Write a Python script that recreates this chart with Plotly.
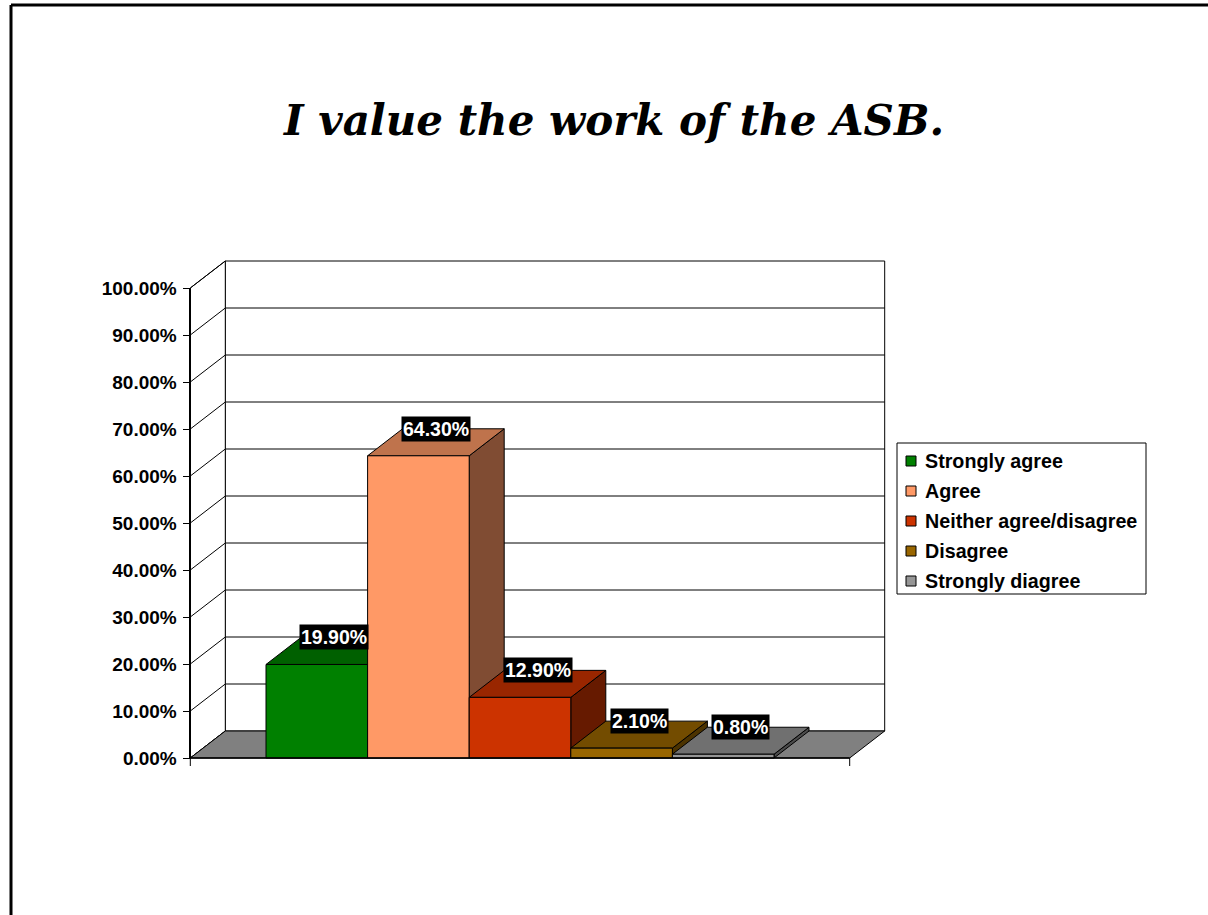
import plotly.graph_objects as go

# ---- data ----
categories = ["Strongly agree", "Agree", "Neither agree/disagree", "Disagree", "Strongly diagree"]
values = [19.9, 64.3, 12.9, 2.1, 0.8]          # percent of respondents
front_colors = ["#008000", "#FF9966", "#CC3300", "#996600", "#969696"]
y_ticks = list(range(0, 101, 10))
title_text = "I value the work of the ASB."

# ---- page geometry (pixels) ----
W, H = 1208, 915
X0_PX, SLOT_PX = 316.8, 101.6       # centre of first bar, width of one bar slot
Y0_PX, PX_PER_PCT = 758.0, 4.7      # front floor line, pixels per percent
DEPTH_PX = (35.0, 27.0)             # oblique depth offset (right, up)
GAP = 0.745                          # floor margin beyond the bars, in slots

DX = DEPTH_PX[0] / SLOT_PX
DY = DEPTH_PX[1] / PX_PER_PCT
n = len(values)
xf0, xf1 = -0.5 - GAP, n - 0.5 + GAP
ymax = max(y_ticks)

FONT = "Liberation Sans, Arial, sans-serif"


def shade(hex_color, k):
    r, g, b = (int(hex_color[i:i + 2], 16) for i in (1, 3, 5))
    return "rgb(%d,%d,%d)" % (round(r * k), round(g * k), round(b * k))


fig = go.Figure()


def poly(xs, ys, fill, width=1):
    fig.add_trace(go.Scatter(
        x=list(xs) + [xs[0]], y=list(ys) + [ys[0]],
        mode="lines", fill="toself", fillcolor=fill,
        line=dict(color="black", width=width),
        hoverinfo="skip", showlegend=False))


def line(xs, ys, width=1):
    fig.add_trace(go.Scatter(x=xs, y=ys, mode="lines",
                             line=dict(color="black", width=width),
                             hoverinfo="skip", showlegend=False))


# back wall with its gridlines
poly([xf0 + DX, xf1 + DX, xf1 + DX, xf0 + DX], [DY, DY, ymax + DY, ymax + DY], "white")
for t in y_ticks[1:-1]:
    line([xf0 + DX, xf1 + DX], [t + DY, t + DY])
# left side wall with depth lines
poly([xf0, xf0, xf0 + DX, xf0 + DX], [0, ymax, ymax + DY, DY], "white")
for t in y_ticks:
    line([xf0, xf0 + DX], [t, t + DY])
# floor
poly([xf0, xf1, xf1 + DX, xf0 + DX], [0, 0, DY, DY], "#808080")

# bars, left to right so each bar covers the side of the previous one
for i, (v, c) in enumerate(zip(values, front_colors)):
    xl, xr = i - 0.5, i + 0.5
    poly([xr, xr, xr + DX, xr + DX], [0, v, v + DY, DY], shade(c, 0.5))       # side
    poly([xl, xr, xr + DX, xl + DX], [v, v, v + DY, v + DY], shade(c, 0.75))   # top
    poly([xl, xr, xr, xl], [0, 0, v, v], c)                                   # front

# front floor edge and category-axis end ticks
tick_len = 8.0 / PX_PER_PCT
line([xf0, xf1], [0, 0], width=1.5)
for xe in (xf0, xf1):
    line([xe, xe], [0, -tick_len])

# value labels
for i, v in enumerate(values):
    fig.add_annotation(x=i + DX / 2, y=v + DY, xref="x", yref="y",
                       text="<b>%.2f%%</b>" % v, showarrow=False,
                       font=dict(family=FONT, size=19.5, color="white"),
                       bgcolor="black", borderpad=1,
                       xanchor="center", yanchor="middle")

# visible value axis on its own subplot
fig.add_trace(go.Scatter(x=[None], y=[None], xaxis="x", yaxis="y2",
                         hoverinfo="skip", showlegend=False))

# legend box
lx0, ly0, lx1, ly1 = 897, 443, 1146, 594
fig.add_shape(type="rect", xref="paper", yref="paper",
              x0=lx0 / W, x1=lx1 / W, y0=1 - ly0 / H, y1=1 - ly1 / H,
              line=dict(color="black", width=1), fillcolor="white")
for k, (name, c) in enumerate(zip(categories, front_colors)):
    cy = 461 + 30 * k
    fig.add_shape(type="rect", xref="paper", yref="paper",
                  x0=906 / W, x1=916 / W, y0=1 - (cy - 5) / H, y1=1 - (cy + 5) / H,
                  line=dict(color="black", width=1), fillcolor=c)
    fig.add_annotation(x=923 / W, y=1 - cy / H, xref="paper", yref="paper",
                       text="<b>%s</b>" % name, showarrow=False,
                       font=dict(family=FONT, size=19.7, color="black"),
                       xanchor="left", yanchor="middle")

# page frame
fig.add_shape(type="line", xref="paper", yref="paper",
              x0=11 / W, x1=1.0, y0=1 - 5 / H, y1=1 - 5 / H,
              line=dict(color="black", width=3))
fig.add_shape(type="line", xref="paper", yref="paper",
              x0=11 / W, x1=11 / W, y0=1 - 5 / H, y1=0,
              line=dict(color="black", width=3))

fig.update_layout(
    width=W, height=H,
    margin=dict(l=0, r=0, t=0, b=0, pad=0, autoexpand=False),
    paper_bgcolor="white", plot_bgcolor="rgba(0,0,0,0)",
    title=dict(text="<b><i>%s</i></b>" % title_text, automargin=False,
               x=614 / W, y=1 - 120 / H, xanchor="center", yanchor="middle",
               font=dict(family="DejaVu Serif, serif", size=42, color="black")),
    xaxis=dict(range=[-X0_PX / SLOT_PX, (W - X0_PX) / SLOT_PX], visible=False,
               domain=[0, 1], automargin=False),
    yaxis=dict(range=[(Y0_PX - H) / PX_PER_PCT, Y0_PX / PX_PER_PCT], visible=False,
               domain=[0, 1], automargin=False),
    yaxis2=dict(range=[0, ymax], domain=[(H - Y0_PX) / H, (H - Y0_PX + ymax * PX_PER_PCT) / H],
                anchor="free", position=(X0_PX + xf0 * SLOT_PX) / W, side="left",
                automargin=False, ticklabelstandoff=2,
                tickvals=y_ticks, ticktext=["<b>%.2f%%</b>" % t for t in y_ticks],
                ticks="outside", ticklen=7, tickcolor="black", tickwidth=1,
                showline=True, linecolor="black", linewidth=1.5,
                showgrid=False, zeroline=False,
                tickfont=dict(family=FONT, size=19, color="black")),
    showlegend=False,
)

fig.write_html("out.html")
